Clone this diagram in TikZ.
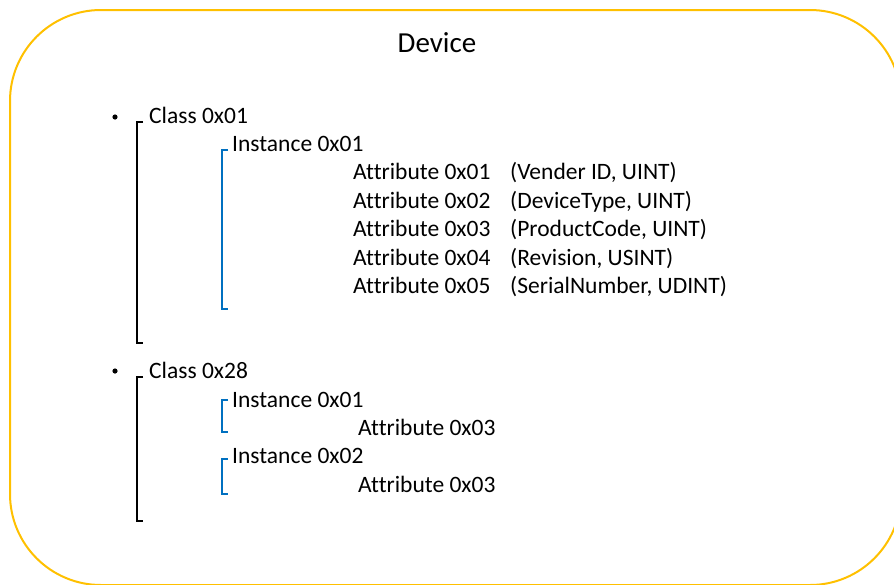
\documentclass[tikz,border=0pt]{standalone}
\usepackage{fontspec}
\setmainfont[Ligatures=NoCommon]{Carlito}
\definecolor{frame}{HTML}{FFC000}
\definecolor{instblue}{HTML}{0070C0}
\begin{document}
\begin{tikzpicture}[x=1pt,y=-1pt,
  txt/.style={anchor=base west,inner sep=0pt,font=\fontsize{23.5}{28}\selectfont},
  classbr/.style={draw=black,line width=2pt},
  instbr/.style={draw=instblue,line width=2pt}]
\useasboundingbox (0,0) rectangle (894,584);
% outer frame
\draw[frame,line width=2pt,rounded corners=91pt] (10,10) rectangle (901,585);
\node[inner sep=0pt,font=\fontsize{29}{34}\selectfont] (title) at (437,43) {Device};

% first class
\fill (115,117) circle (2.6pt);
\node[txt] (c1) at (149,123.0) {Class 0x01};
\node[txt] (i11) at (232,151.4) {Instance 0x01};
\node[txt] (a1) at (353,179.8) {Attribute 0x01};
\node[txt] (a2) at (353,208.2) {Attribute 0x02};
\node[txt] (a3) at (353,236.6) {Attribute 0x03};
\node[txt] (a4) at (353,265.0) {Attribute 0x04};
\node[txt] (a5) at (353,293.4) {Attribute 0x05};
\node[txt] (t1) at (510,179.8) {(Vender ID, UINT)};
\node[txt] (t2) at (510,208.2) {(DeviceType, UINT)};
\node[txt] (t3) at (510,236.6) {(ProductCode, UINT)};
\node[txt] (t4) at (510,265.0) {(Revision, USINT)};
\node[txt] (t5) at (510,293.4) {(SerialNumber, UDINT)};
\draw[classbr] (143,122) -- (137,122) -- (137,343) -- (143,343);
\draw[instbr] (228,150) -- (222,150) -- (222,309) -- (228,309);

% second class
\fill (115,371) circle (2.6pt);
\node[txt] (c2) at (149,378.6) {Class 0x28};
\node[txt] (i21) at (232,407.0) {Instance 0x01};
\node[txt] (a21) at (358,435.4) {Attribute 0x03};
\node[txt] (i22) at (232,463.8) {Instance 0x02};
\node[txt] (a22) at (358,492.2) {Attribute 0x03};
\draw[classbr] (143,377) -- (137,377) -- (137,521) -- (143,521);
\draw[instbr] (228,400) -- (222,400) -- (222,432) -- (228,432);
\draw[instbr] (228,459) -- (222,459) -- (222,494) -- (228,494);
\end{tikzpicture}
\end{document}
